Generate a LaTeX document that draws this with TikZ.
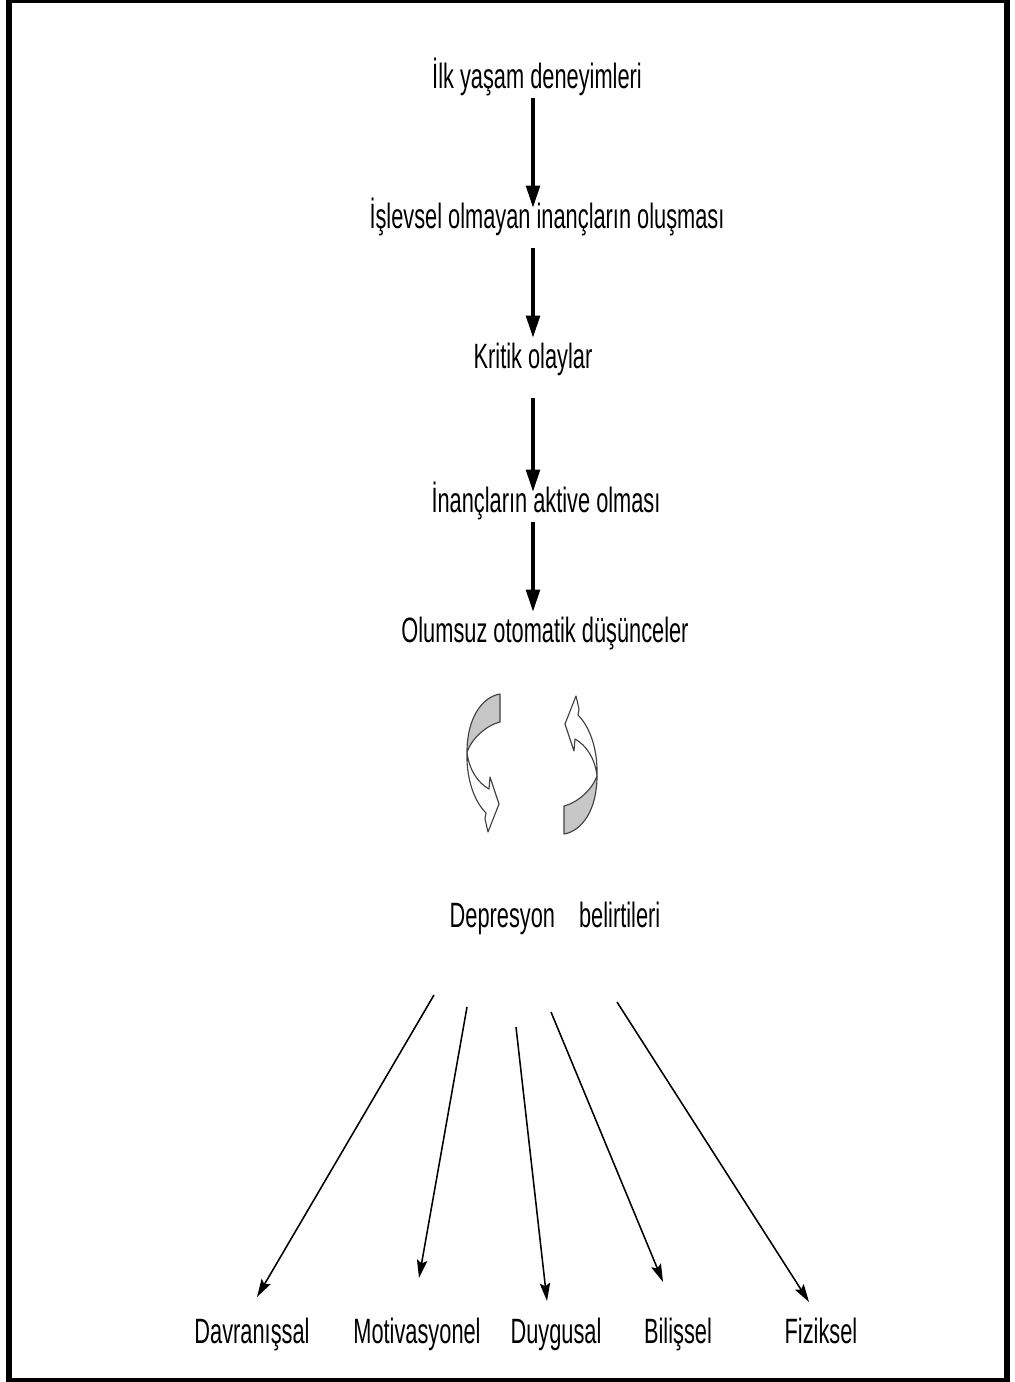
\documentclass[tikz,border=0pt]{standalone}
\usepackage{fontspec}
\newfontfamily\lbl[FakeStretch=0.62]{Liberation Sans}
\usetikzlibrary{arrows.meta}
\tikzset{>=stealth,
  txt/.style={font=\lbl\fontsize{25}{30}\selectfont, anchor=base, inner sep=0pt, text height=0.75cm, text depth=0.25cm},
  down/.style={line width=2.4pt, -{Triangle[length=0.55cm,width=0.34cm]}},
  diag/.style={line width=1.1pt, -{Stealth[length=0.45cm,width=0.26cm,inset=0.08cm]}},
  ribbon/.style={draw=black!75, line width=0.8pt, line join=round}}

\begin{document}
\begin{tikzpicture}[x=0.025cm,y=-0.025cm]
\useasboundingbox (0,0) rectangle (1014,1382);
\draw[line width=0.15cm] (9,0) rectangle (1007,1381);
\coordinate (ax) at (533,0);
\node[txt] (ilk) at (537,88) {İlk yaşam deneyimleri};
\node[txt] (islev) at (547,228) {İşlevsel olmayan inançların oluşması};
\node[txt] (kritik) at (533,368) {Kritik olaylar};
\node[txt] (aktive) at (546,512) {İnançların aktive olması};
\node[txt] (olumsuz) at (545,642) {Olumsuz otomatik düşünceler};
\node[txt] (belirti) at (555,927) {Depresyon\hspace{0.6cm}belirtileri};
\draw[down, shorten >=-0.25cm] (ilk.south -| ax) -- (islev.north -| ax);
\draw[down, shorten <=0.25cm] (islev.south -| ax) -- (kritik.north -| ax);
\draw[down, shorten <=0.5cm, shorten >=-0.25cm] (kritik.south -| ax) -- (aktive.north -| ax);
\draw[down] (aktive.south -| ax) -- (olumsuz.north -| ax);
\foreach \r in {0,180}{
\begin{scope}[rotate around={\r:(532,764)}]
\filldraw[ribbon, fill=black!22] (500,694) .. controls (482,697) and (467,718) .. (467,752) .. controls (472,738) and (487,725) .. (500,722) -- cycle;
\filldraw[ribbon, fill=white] (467,752) .. controls (466,780) and (475,802) .. (486,813) -- (485,819) -- (488,832) -- (499,804) -- (490,777) -- (489,789) .. controls (478,783) and (469,770) .. (467,752) -- cycle;
\end{scope}}
\foreach \n/\x/\t in {dv/252/Davranışsal, mt/417/Motivasyonel, dg/556/Duygusal, bl/678/Bilişsel, fz/821/Fiziksel}
\node[txt] (\n) at (\x,1343) {\t};
\foreach \n/\sx/\sy/\ex/\ey in {dv/434/995/257/1297, mt/467/1007/419/1278, dg/516/1027/547/1301, bl/551/1012/663/1282, fz/617/1002/809/1302}{
\coordinate (\n from) at (\sx,\sy);
\coordinate (\n to) at (\ex,\ey);
\draw[diag] (\n from) -- (\n to);}
\end{tikzpicture}
\end{document}
